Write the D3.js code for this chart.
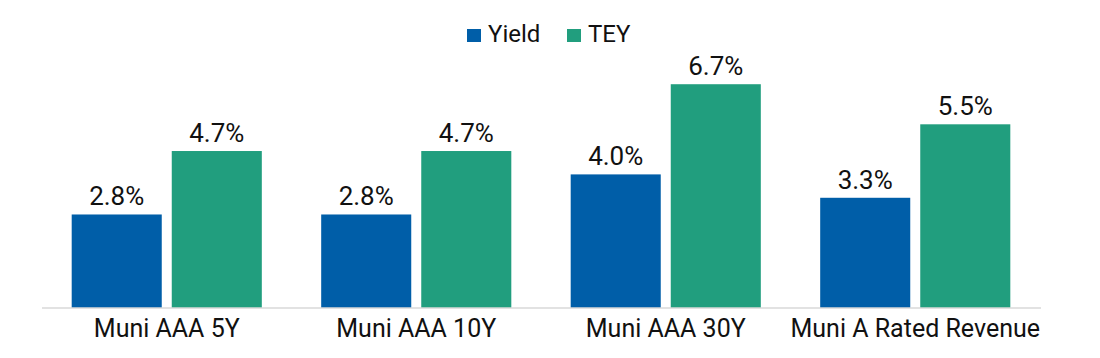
<!DOCTYPE html>
<html>
<head>
<meta charset="utf-8">
<script src="https://cdn.jsdelivr.net/npm/d3@7"></script>
<style>
  html, body { margin: 0; padding: 0; background: #fff; }
  svg { display: block; font-family: Roboto, "Noto Sans", sans-serif; }
</style>
</head>
<body>
<svg id="chart" width="1100" height="358"></svg>
<script>
const categories = ["Muni AAA 5Y", "Muni AAA 10Y", "Muni AAA 30Y", "Muni A Rated Revenue"];
const seriesNames = ["Yield", "TEY"];
const yieldValues = [2.8, 2.8, 4.0, 3.3];
const teyValues = [4.7, 4.7, 6.7, 5.5];
const colors = ["#005EA8", "#219E7E"];

const svg = d3.select("#chart");
const W = 1100, H = 358;
const margin = { left: 42, right: 60, top: 40, bottom: 50 };
const baseY = 308;

const x0 = d3.scaleBand().domain(categories)
  .range([margin.left, W - margin.right])
  .paddingInner(0.238).paddingOuter(0.119);
const x1 = d3.scaleBand().domain(seriesNames)
  .range([0, x0.bandwidth()]).paddingInner(0.1);
const y = d3.scaleLinear().domain([0, 8]).range([baseY, baseY - 8 * 33.4]);
const color = d3.scaleOrdinal().domain(seriesNames).range(colors);

const data = categories.map((c, i) => ({ cat: c, vals: [
  { s: "Yield", v: yieldValues[i] }, { s: "TEY", v: teyValues[i] } ] }));

const groups = svg.append("g").selectAll("g").data(data).join("g")
  .attr("transform", d => `translate(${x0(d.cat)},0)`);

groups.selectAll("rect").data(d => d.vals).join("rect")
  .attr("x", d => x1(d.s))
  .attr("width", x1.bandwidth())
  .attr("y", d => y(d.v))
  .attr("height", d => y(0) - y(d.v))
  .attr("fill", d => color(d.s));

groups.selectAll("text.val").data(d => d.vals).join("text")
  .attr("class", "val")
  .attr("x", d => x1(d.s) + x1.bandwidth() / 2)
  .attr("y", d => y(d.v) - 9)
  .attr("text-anchor", "middle")
  .attr("font-size", 26)
  .attr("fill", "#111")
  .text(d => d.v.toFixed(1) + "%");

// baseline axis
const xAxis = d3.axisBottom(x0).tickSize(0).tickPadding(0);
const ax = svg.append("g").attr("transform", `translate(0,${baseY})`).call(xAxis);
ax.select(".domain").attr("stroke", "#d9d9d9").attr("stroke-width", 1.5)
  .attr("d", `M${margin.left},0H${W - margin.right + 1}`);
ax.selectAll(".tick text").attr("font-size", 25).attr("fill", "#111")
  .attr("dy", null).attr("y", 29)
  .attr("font-family", "Roboto, 'Noto Sans', sans-serif");

// legend
const legend = svg.append("g");
const legendItems = [{ s: "Yield", x: 467 }, { s: "TEY", x: 567 }];
legendItems.forEach(it => {
  legend.append("rect").attr("x", it.x).attr("y", 29).attr("width", 14).attr("height", 13)
    .attr("fill", color(it.s));
  legend.append("text").attr("x", it.x + 21).attr("y", 42)
    .attr("font-size", 24).attr("fill", "#111").text(it.s);
});
</script>
</body>
</html>
